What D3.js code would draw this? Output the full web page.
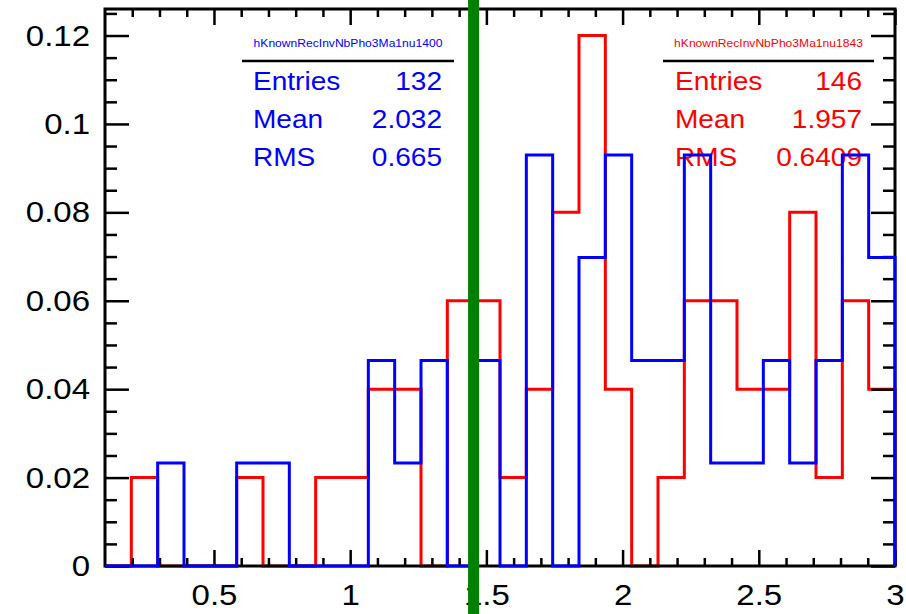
<!DOCTYPE html>
<html>
<head>
<meta charset="utf-8">
<script src="https://cdn.jsdelivr.net/npm/d3@7"></script>
<style>
    html, body { margin: 0; padding: 0; background: #fff; }
    svg { display: block; font-family: "Liberation Sans", Arial, sans-serif; }
</style>
</head>
<body>
<div id="chart"></div>
<script>
// histogram binning (30 bins between 0.1 and 3.0)
const xLow = 0.1, xHigh = 3.0, nBins = 30;

// bin contents, normalised
const redValues = [0, 0.02, 0, 0, 0, 0.02, 0, 0, 0.02, 0.02,
    0.04, 0.04, 0, 0.06, 0.06, 0.02, 0.04, 0.08, 0.12, 0.04,
    0, 0.02, 0.06, 0.06, 0.04, 0.04, 0.08, 0.02, 0.06, 0.04];
const blueValues = [0, 0, 0.0233, 0, 0, 0.0233, 0.0233, 0, 0, 0,
    0.0465, 0.0233, 0.0465, 0, 0.0465, 0, 0.093, 0, 0.0698, 0.093,
    0.0465, 0.0465, 0.093, 0.0233, 0.0233, 0.0465, 0.0233, 0.0465, 0.093, 0.0698];

const xTicks = [0.5, 1, 1.5, 2, 2.5, 3];
const yTicks = [0, 0.02, 0.04, 0.06, 0.08, 0.1, 0.12];
const cutValue = 1.453;

const blueStats = {title: "hKnownRecInvNbPho3Ma1nu1400", rows: [["Entries", "132"], ["Mean", "2.032"], ["RMS", "0.665"]]};
const redStats = {title: "hKnownRecInvNbPho3Ma1nu1843", rows: [["Entries", "146"], ["Mean", "1.957"], ["RMS", "0.6409"]]};

const W = 906, H = 614;
const frame = {left: 105, right: 895, top: 9, bottom: 566};
const stretch = 1.1;

const x = d3.scaleLinear().domain([xLow, xHigh]).range([frame.left, frame.right]);
const y = d3.scaleLinear().domain([0, 0.126]).range([frame.bottom, frame.top]);

const binWidth = (xHigh - xLow) / nBins;
const edges = d3.range(nBins + 1).map(function (i) { return xLow + i * binWidth; });

const xMinor = d3.range(2, 30).map(function (i) { return +(i / 10).toFixed(1); })
    .filter(function (v) { return xTicks.indexOf(v) < 0; });
const yMinor = d3.range(1, 26).map(function (i) { return +(i * 0.005).toFixed(3); })
    .filter(function (v) { return yTicks.indexOf(v) < 0; });

const svg = d3.select("#chart").append("svg")
    .attr("width", W)
    .attr("height", H);

// step outline of a histogram
function stepPath(values) {
    const pts = [[edges[0], 0]];
    values.forEach(function (v, i) {
        pts.push([edges[i], v]);
        pts.push([edges[i + 1], v]);
    });
    pts.push([edges[nBins], 0]);
    return d3.line()
        .x(function (d) { return x(d[0]); })
        .y(function (d) { return y(d[1]); })(pts);
}

function stretchedText(g, tx, ty, txt, size, anchor, color) {
    g.append("text")
        .attr("transform", "translate(" + tx + "," + ty + ") scale(" + stretch + ",1)")
        .attr("text-anchor", anchor)
        .attr("font-size", size)
        .attr("fill", color)
        .text(txt);
}

function statBox(stats, color, lineX0, lineX1, labelX, valueX) {
    const g = svg.append("g").attr("class", "stats");
    stretchedText(g, (lineX0 + lineX1) / 2, 47, stats.title, 11, "middle", color);
    g.append("line")
        .attr("x1", lineX0).attr("x2", lineX1)
        .attr("y1", 61).attr("y2", 61)
        .attr("stroke", "#000")
        .attr("stroke-width", 2.5);
    stats.rows.forEach(function (r, i) {
        const base = 90 + i * 38;
        stretchedText(g, labelX, base, r[0], 25.5, "start", color);
        stretchedText(g, valueX, base, r[1], 25.5, "end", color);
    });
}

statBox(blueStats, "#0000ff", 242, 454, 253, 442);
statBox(redStats, "#ff0000", 663, 874, 675, 862);

// red histogram sits under the frame
svg.append("path")
    .attr("class", "hist red")
    .attr("d", stepPath(redValues))
    .attr("fill", "none")
    .attr("stroke", "#ff0000")
    .attr("stroke-width", 3);

// axes with inward ticks on all four sides
function styleAxis(g) {
    g.select(".domain").remove();
    g.selectAll("line").attr("stroke", "#000").attr("stroke-width", 2.5);
}

svg.append("g")
    .attr("transform", "translate(0," + frame.bottom + ")")
    .call(d3.axisBottom(x).tickValues(xTicks).tickSize(-16).tickSizeOuter(0).tickPadding(18)
        .tickFormat(function (d) { return d3.format("~g")(d); }))
    .call(styleAxis)
    .selectAll("text")
    .attr("font-size", 30)
    .attr("font-family", "Liberation Sans, Arial, sans-serif")
    .attr("fill", "#000")
    .attr("transform", "scale(" + stretch + ",1)");

svg.append("g")
    .attr("transform", "translate(0," + frame.bottom + ")")
    .call(d3.axisBottom(x).tickValues(xMinor).tickSize(-8).tickSizeOuter(0).tickFormat(""))
    .call(styleAxis);

svg.append("g")
    .attr("transform", "translate(0," + frame.top + ")")
    .call(d3.axisTop(x).tickValues(xTicks).tickSize(-16).tickSizeOuter(0).tickFormat(""))
    .call(styleAxis);

svg.append("g")
    .attr("transform", "translate(0," + frame.top + ")")
    .call(d3.axisTop(x).tickValues(xMinor).tickSize(-8).tickSizeOuter(0).tickFormat(""))
    .call(styleAxis);

svg.append("g")
    .attr("transform", "translate(" + frame.left + ",0)")
    .call(d3.axisLeft(y).tickValues(yTicks).tickSize(-24).tickSizeOuter(0).tickPadding(13.6)
        .tickFormat(function (d) { return d3.format("~g")(d); }))
    .call(styleAxis)
    .selectAll("text")
    .attr("font-size", 30)
    .attr("font-family", "Liberation Sans, Arial, sans-serif")
    .attr("fill", "#000")
    .attr("transform", "scale(" + stretch + ",1)");

svg.append("g")
    .attr("transform", "translate(" + frame.left + ",0)")
    .call(d3.axisLeft(y).tickValues(yMinor).tickSize(-12).tickSizeOuter(0).tickFormat(""))
    .call(styleAxis);

svg.append("g")
    .attr("transform", "translate(" + frame.right + ",0)")
    .call(d3.axisRight(y).tickValues(yTicks).tickSize(-24).tickSizeOuter(0).tickFormat(""))
    .call(styleAxis);

svg.append("g")
    .attr("transform", "translate(" + frame.right + ",0)")
    .call(d3.axisRight(y).tickValues(yMinor).tickSize(-12).tickSizeOuter(0).tickFormat(""))
    .call(styleAxis);

svg.append("rect")
    .attr("class", "frame")
    .attr("x", frame.left)
    .attr("y", frame.top)
    .attr("width", frame.right - frame.left)
    .attr("height", frame.bottom - frame.top)
    .attr("fill", "none")
    .attr("stroke", "#000")
    .attr("stroke-width", 3);

// blue histogram drawn over the frame
svg.append("path")
    .attr("class", "hist blue")
    .attr("d", stepPath(blueValues))
    .attr("fill", "none")
    .attr("stroke", "#0000ff")
    .attr("stroke-width", 3);

// cut line
svg.append("line")
    .attr("class", "cut")
    .attr("x1", x(cutValue)).attr("x2", x(cutValue))
    .attr("y1", 0).attr("y2", H)
    .attr("stroke", "#008000")
    .attr("stroke-width", 11);
</script>
</body>
</html>
